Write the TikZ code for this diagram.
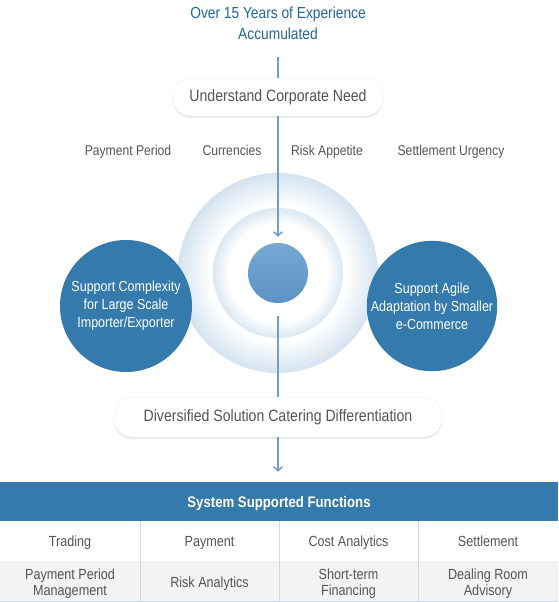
\documentclass[tikz,border=0pt]{standalone}
\usepackage{fontspec}
\setmainfont{Liberation Sans}[FakeStretch=0.86]
\usetikzlibrary{arrows.meta,shadows,positioning}
\definecolor{titleblue}{RGB}{33,102,160}
\definecolor{circblue}{RGB}{53,122,172}
\definecolor{linkblue}{RGB}{110,160,200}
\definecolor{textgrey}{RGB}{85,85,85}
\definecolor{ringblue}{RGB}{212,227,240}
\definecolor{coretop}{RGB}{118,168,212}
\definecolor{corebot}{RGB}{92,146,195}
\definecolor{sepblue}{RGB}{200,220,236}
\definecolor{rowgrey}{RGB}{243,243,243}
\pgfdeclareradialshading{ringglow}{\pgfpoint{0bp}{0bp}}{color(0bp)=(white);color(17bp)=(white);color(25bp)=(ringblue);color(50bp)=(ringblue)}
\pgfdeclareradialshading{innerglow}{\pgfpoint{0bp}{0bp}}{color(0bp)=(white);color(19bp)=(white);color(25bp)=(ringblue!85);color(50bp)=(ringblue!85)}
\begin{document}
\begin{tikzpicture}[x=0.75pt,y=-0.75pt,
    pill/.style={draw=black!5,fill=white,rounded corners=14pt,inner sep=0pt,
      drop shadow={shadow xshift=0pt,shadow yshift=-1.5pt,opacity=.12,fill=black!70},
      text=textgrey,font=\fontsize{12.3}{14}\selectfont},
    factor/.style={text=textgrey,anchor=base,font=\fontsize{10.6}{12}\selectfont},
    bigdot/.style={circle,fill=circblue,text=white,align=center,inner sep=0pt,
      font=\fontsize{10.9}{13.5}\selectfont},
    link/.style={draw=linkblue,line width=1.1pt},
    linkarrow/.style={link,-{Straight Barb[length=3pt,width=6.5pt]}},
    cell/.style={text=textgrey,align=center,font=\fontsize{11}{12}\selectfont,
      execute at begin node=\strut,execute at end node=\strut}]
  \useasboundingbox (0,0) rectangle (558,602);
  % heading
  \node[text=titleblue,align=center,font=\fontsize{12}{15.75}\selectfont] (exp) at (278,23.5)
    {Over 15 Years of Experience\\Accumulated};
  \node[pill,minimum width=158pt,minimum height=28.5pt] (need) at (278,97) {Understand Corporate Need};
  % factors
  \node[factor] (period) at (128,156) {Payment Period};
  \node[factor] (curr) at (232,156) {Currencies};
  \node[factor] (risk) at (327,156) {Risk Appetite};
  \node[factor] (urgency) at (451,156) {Settlement Urgency};
  % rings
  \shade[shading=ringglow] (278,273) circle[radius=75pt];
  \shade[shading=innerglow] (278,273) circle[radius=48.75pt];
  \node[circle,minimum size=45pt,inner sep=0pt,top color=coretop,bottom color=corebot] (core) at (278,273) {};
  \node[bigdot,minimum size=99pt] (large) at (126,306)
    {Support Complexity\\for Large Scale\\Importer/Exporter};
  \node[bigdot,minimum size=97.5pt] (small) at (432,306)
    {Support Agile\\Adaptation by Smaller\\e-Commerce};
  \node[pill,minimum width=246pt,minimum height=30pt] (diverse) at (278,417)
    {Diversified Solution Catering Differentiation};
  % table
  \node[fill=circblue,text=white,minimum width=418.5pt,minimum height=29.25pt,inner sep=0pt,
    text depth=0pt,font=\bfseries\fontsize{11.5}{12}\selectfont] (funcs) at (279,501.5) {System Supported Functions};
  \fill[white] (0,521) rectangle (558,561);
  \fill[rowgrey] (0,561) rectangle (558,601);
  \foreach \x in {140,279,418}
    \draw[sepblue] (\x,521) -- (\x,601);
  \draw[sepblue] (0,601) -- (558,601);
  \foreach \n/\x/\y/\t in {trade/70/543/Trading,pay/209.5/543/Payment,cost/348.5/543/Cost Analytics,
      settle/488/543/Settlement,ppm/70/585/{Payment Period\\Management},ra/209.5/584/Risk Analytics,
      stf/348.5/585/{Short-term\\Financing},dra/488/585/{Dealing Room\\Advisory}}
    \node[cell] (\n) at (\x,\y) {\t};
  % connectors
  \draw[link,shorten <=9pt] (exp) -- (need);
  \draw[linkarrow,shorten >=4.5pt] (need) -- (core);
  \draw[link,shorten <=9.5pt] (core) -- (diverse);
  \draw[linkarrow,shorten >=7.5pt] (diverse) -- (diverse |- funcs.north);
\end{tikzpicture}
\end{document}
